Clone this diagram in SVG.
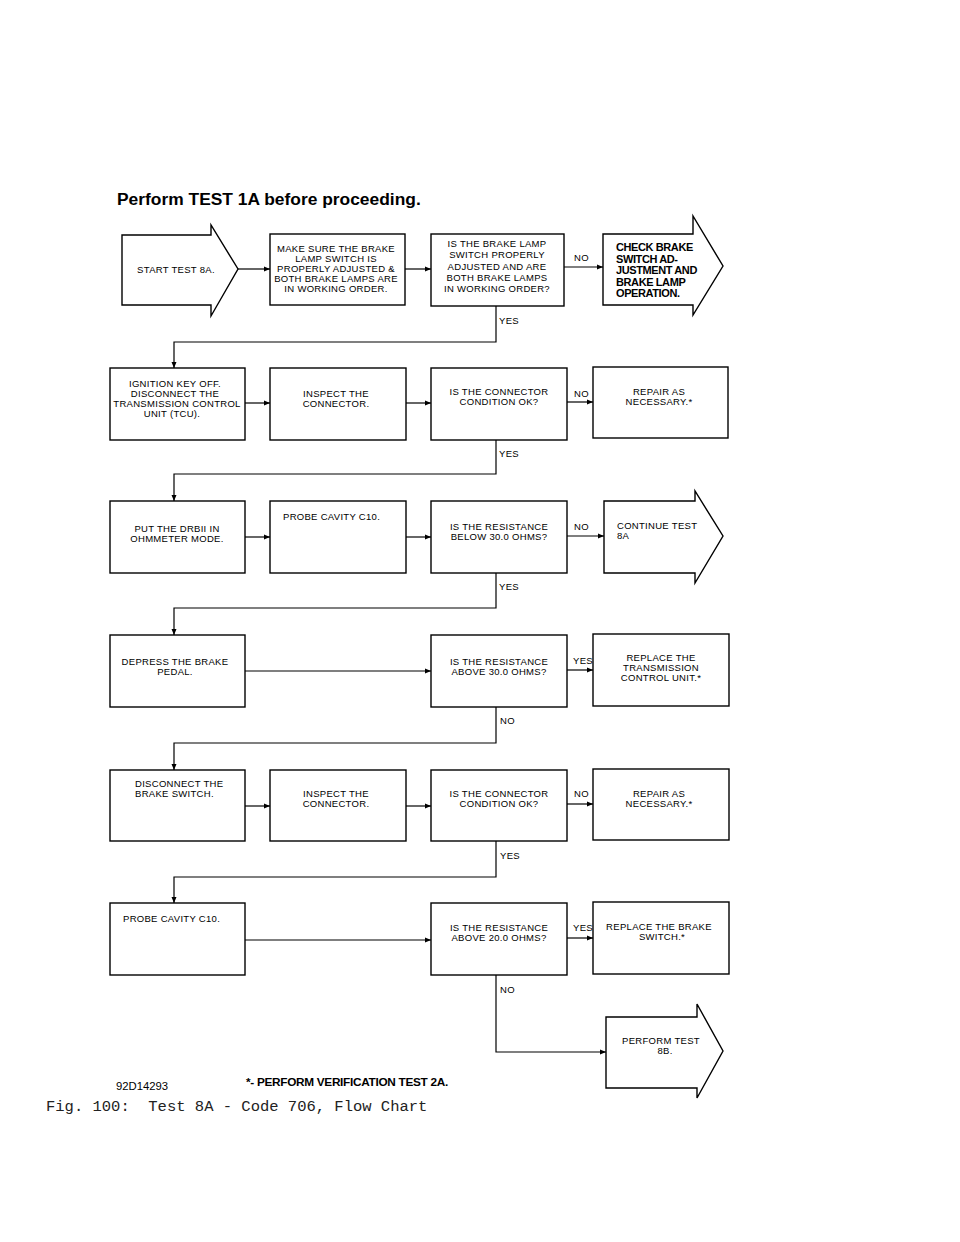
<svg xmlns="http://www.w3.org/2000/svg" width="960" height="1242" viewBox="0 0 960 1242">
<style>
.box{fill:#fff;stroke:#000;stroke-width:1.4}
.ln{fill:none;stroke:#000;stroke-width:1.2}
.t{font-family:"Liberation Sans",Arial,sans-serif;font-size:9.5px;letter-spacing:0.3px;fill:#000}
.c{text-anchor:middle}
.b{font-family:"Liberation Sans",Arial,sans-serif;font-weight:bold;font-size:11px;letter-spacing:-0.4px;fill:#000}
</style>
<defs>
<marker id="ah" markerUnits="userSpaceOnUse" markerWidth="7" markerHeight="6" refX="6" refY="3" orient="auto">
<path d="M0,0.5 L6,3 L0,5.5 Z" fill="#000"/>
</marker>
</defs>
<rect width="960" height="1242" fill="#fff"/>
<text x="117" y="205" font-family="Liberation Sans,Arial,sans-serif" font-weight="bold" font-size="17.4" fill="#000">Perform TEST 1A before proceeding.</text>

<g id="connectors">
<path class="ln" marker-end="url(#ah)" d="M238,269 H270"/>
<path class="ln" marker-end="url(#ah)" d="M405,269 H431"/>
<path class="ln" marker-end="url(#ah)" d="M564,267 H603"/>
<path class="ln" marker-end="url(#ah)" d="M496,306 V342 H174 V368"/>
<path class="ln" marker-end="url(#ah)" d="M245,403 H270"/>
<path class="ln" marker-end="url(#ah)" d="M406,403 H431"/>
<path class="ln" marker-end="url(#ah)" d="M567,402 H593"/>
<path class="ln" marker-end="url(#ah)" d="M496,440 V474 H174 V501"/>
<path class="ln" marker-end="url(#ah)" d="M245,537 H270"/>
<path class="ln" marker-end="url(#ah)" d="M406,537 H431"/>
<path class="ln" marker-end="url(#ah)" d="M567,536 H604"/>
<path class="ln" marker-end="url(#ah)" d="M496,573 V608 H174 V635"/>
<path class="ln" marker-end="url(#ah)" d="M245,671 H431"/>
<path class="ln" marker-end="url(#ah)" d="M567,670 H593"/>
<path class="ln" marker-end="url(#ah)" d="M496,707 V743 H174 V770"/>
<path class="ln" marker-end="url(#ah)" d="M245,806 H270"/>
<path class="ln" marker-end="url(#ah)" d="M406,806 H431"/>
<path class="ln" marker-end="url(#ah)" d="M567,804 H593"/>
<path class="ln" marker-end="url(#ah)" d="M496,841 V877 H174 V903"/>
<path class="ln" marker-end="url(#ah)" d="M245,940 H431"/>
<path class="ln" marker-end="url(#ah)" d="M567,938 H593"/>
<path class="ln" marker-end="url(#ah)" d="M496,975 V1052 H606"/>
<text class="t" x="574" y="261">NO</text>
<text class="t" x="499" y="324">YES</text>
<text class="t" x="574" y="397">NO</text>
<text class="t" x="499" y="457">YES</text>
<text class="t" x="574" y="530">NO</text>
<text class="t" x="499" y="590">YES</text>
<text class="t" x="573" y="664">YES</text>
<text class="t" x="500" y="724">NO</text>
<text class="t" x="574" y="797">NO</text>
<text class="t" x="500" y="859">YES</text>
<text class="t" x="573" y="931">YES</text>
<text class="t" x="500" y="993">NO</text>
</g>

<g id="start">
<path class="box" d="M122,235 H211 V225 L238,269 L211,316 V305 H122 Z"/>
<text class="t c" x="176" y="273">START TEST 8A.</text>
</g>
<g id="make-sure">
<rect class="box" x="270" y="234" width="135" height="71"/>
<text class="t c" x="336" y="252">MAKE SURE THE BRAKE</text>
<text class="t c" x="336" y="262">LAMP SWITCH IS</text>
<text class="t c" x="336" y="272">PROPERLY ADJUSTED &amp;</text>
<text class="t c" x="336" y="282">BOTH BRAKE LAMPS ARE</text>
<text class="t c" x="336" y="292">IN WORKING ORDER.</text>
</g>
<g id="q-brake-lamp">
<rect class="box" x="431" y="234" width="133" height="72"/>
<text class="t c" x="497" y="247">IS THE BRAKE LAMP</text>
<text class="t c" x="497" y="258">SWITCH PROPERLY</text>
<text class="t c" x="497" y="269.5">ADJUSTED AND ARE</text>
<text class="t c" x="497" y="281">BOTH BRAKE LAMPS</text>
<text class="t c" x="497" y="292">IN WORKING ORDER?</text>
</g>
<g id="check-brake">
<path class="box" d="M603,234 H693 V216 L723,266 L693,315 V305 H603 Z"/>
<text class="b" x="616" y="251">CHECK BRAKE</text>
<text class="b" x="616" y="262.5">SWITCH AD-</text>
<text class="b" x="616" y="274">JUSTMENT AND</text>
<text class="b" x="616" y="285.5">BRAKE LAMP</text>
<text class="b" x="616" y="297">OPERATION.</text>
</g>

<g id="ignition">
<rect class="box" x="110" y="368" width="135" height="72"/>
<text class="t c" x="175" y="387">IGNITION KEY OFF.</text>
<text class="t c" x="175" y="397">DISCONNECT THE</text>
<text class="t c" x="177" y="407">TRANSMISSION CONTROL</text>
<text class="t c" x="172" y="417">UNIT (TCU).</text>
</g>
<g id="inspect1">
<rect class="box" x="270" y="368" width="136" height="72"/>
<text class="t c" x="336" y="397">INSPECT THE</text>
<text class="t c" x="336" y="407">CONNECTOR.</text>
</g>
<g id="q-connector1">
<rect class="box" x="431" y="368" width="136" height="72"/>
<text class="t c" x="499" y="395">IS THE CONNECTOR</text>
<text class="t c" x="499" y="405">CONDITION OK?</text>
</g>
<g id="repair1">
<rect class="box" x="593" y="367" width="135" height="71"/>
<text class="t c" x="659" y="395">REPAIR AS</text>
<text class="t c" x="659" y="405">NECESSARY.*</text>
</g>

<g id="put-drbii">
<rect class="box" x="110" y="501" width="135" height="72"/>
<text class="t c" x="177" y="532">PUT THE DRBII IN</text>
<text class="t c" x="177" y="542">OHMMETER MODE.</text>
</g>
<g id="probe1">
<rect class="box" x="270" y="501" width="136" height="72"/>
<text class="t" x="283" y="520">PROBE CAVITY C10.</text>
</g>
<g id="q-below30">
<rect class="box" x="431" y="501" width="136" height="72"/>
<text class="t c" x="499" y="530">IS THE RESISTANCE</text>
<text class="t c" x="499" y="540">BELOW 30.0 OHMS?</text>
</g>
<g id="continue-8a">
<path class="box" d="M604,501 H695 V491 L723,536 L695,583 V573 H604 Z"/>
<text class="t" x="617" y="529">CONTINUE TEST</text>
<text class="t" x="617" y="539">8A</text>
</g>

<g id="depress">
<rect class="box" x="110" y="635" width="135" height="72"/>
<text class="t c" x="175" y="665">DEPRESS THE BRAKE</text>
<text class="t c" x="175" y="675">PEDAL.</text>
</g>
<g id="q-above30">
<rect class="box" x="431" y="635" width="136" height="72"/>
<text class="t c" x="499" y="665">IS THE RESISTANCE</text>
<text class="t c" x="499" y="675">ABOVE 30.0 OHMS?</text>
</g>
<g id="replace-tcu">
<rect class="box" x="593" y="634" width="136" height="72"/>
<text class="t c" x="661" y="661">REPLACE THE</text>
<text class="t c" x="661" y="671">TRANSMISSION</text>
<text class="t c" x="661" y="681">CONTROL UNIT.*</text>
</g>

<g id="disconnect-switch">
<rect class="box" x="110" y="770" width="135" height="71"/>
<text class="t" x="135" y="787">DISCONNECT THE</text>
<text class="t" x="135" y="797">BRAKE SWITCH.</text>
</g>
<g id="inspect2">
<rect class="box" x="270" y="770" width="136" height="71"/>
<text class="t c" x="336" y="797">INSPECT THE</text>
<text class="t c" x="336" y="807">CONNECTOR.</text>
</g>
<g id="q-connector2">
<rect class="box" x="431" y="770" width="136" height="71"/>
<text class="t c" x="499" y="797">IS THE CONNECTOR</text>
<text class="t c" x="499" y="807">CONDITION OK?</text>
</g>
<g id="repair2">
<rect class="box" x="593" y="769" width="136" height="71"/>
<text class="t c" x="659" y="797">REPAIR AS</text>
<text class="t c" x="659" y="807">NECESSARY.*</text>
</g>

<g id="probe2">
<rect class="box" x="110" y="903" width="135" height="72"/>
<text class="t" x="123" y="922">PROBE CAVITY C10.</text>
</g>
<g id="q-above20">
<rect class="box" x="431" y="903" width="136" height="72"/>
<text class="t c" x="499" y="931">IS THE RESISTANCE</text>
<text class="t c" x="499" y="941">ABOVE 20.0 OHMS?</text>
</g>
<g id="replace-switch">
<rect class="box" x="593" y="902" width="136" height="72"/>
<text class="t c" x="659" y="930">REPLACE THE BRAKE</text>
<text class="t c" x="662" y="940">SWITCH.*</text>
</g>
<g id="perform-8b">
<path class="box" d="M606,1017 H697 V1004 L723,1051 L697,1098 V1088 H606 Z"/>
<text class="t c" x="661" y="1044">PERFORM TEST</text>
<text class="t c" x="665" y="1054">8B.</text>
</g>

<text x="116" y="1090" font-family="Liberation Sans,Arial,sans-serif" font-size="11.3" fill="#000">92D14293</text>
<text x="246" y="1086" font-family="Liberation Sans,Arial,sans-serif" font-weight="bold" font-size="11.8" letter-spacing="-0.3" fill="#000">*- PERFORM VERIFICATION TEST 2A.</text>
<text x="46" y="1111" font-family="Liberation Mono,Courier New,monospace" font-size="15.5" fill="#222" style="white-space:pre" xml:space="preserve">Fig. 100:  Test 8A - Code 706, Flow Chart</text>
</svg>
